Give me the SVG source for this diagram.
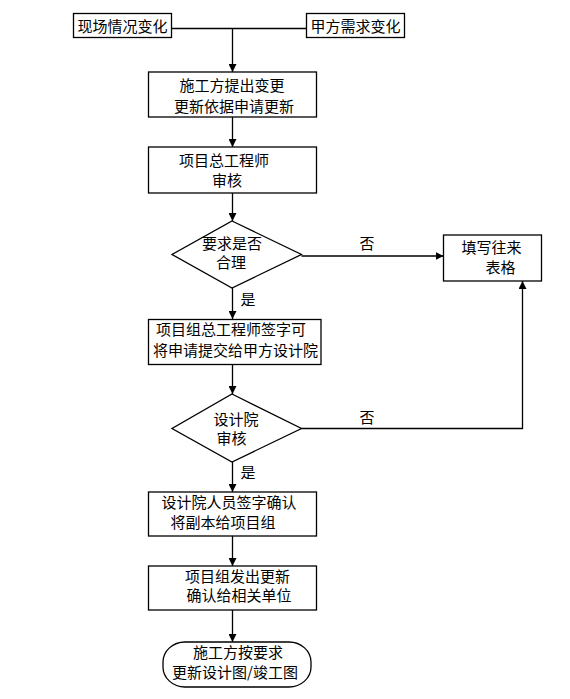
<svg xmlns="http://www.w3.org/2000/svg" width="570" height="699" viewBox="0 0 570 699">
<style>
.n{fill:#fff;stroke:#000;stroke-width:1.3}
.c{fill:none;stroke:#000;stroke-width:1.3}
text{font-family:"Noto Sans CJK SC","Liberation Sans",sans-serif;font-size:15px;fill:#000;text-anchor:middle}
</style>
<defs>
<marker id="a" viewBox="0 0 10 10" refX="10" refY="5" markerWidth="8" markerHeight="8" markerUnits="userSpaceOnUse" orient="auto">
<path d="M0,0 L10,5 L0,10 Z" fill="#000"/>
</marker>
</defs>
<rect width="570" height="699" fill="#fff"/>
<g id="connectors">
<path class="c" d="M172,28.5 H306"/>
<path class="c" d="M232.5,28.5 V72" marker-end="url(#a)"/>
<path class="c" d="M232.5,117 V147" marker-end="url(#a)"/>
<path class="c" d="M232.5,193 V221" marker-end="url(#a)"/>
<path class="c" d="M232.5,288 V319" marker-end="url(#a)"/>
<path class="c" d="M232.5,364 V394" marker-end="url(#a)"/>
<path class="c" d="M232.5,462 V492" marker-end="url(#a)"/>
<path class="c" d="M232.5,536 V566" marker-end="url(#a)"/>
<path class="c" d="M232.5,610 V642" marker-end="url(#a)"/>
<path class="c" d="M301.5,256 H443.5" marker-end="url(#a)"/>
<path class="c" d="M301.5,428.5 H522.5 V281" marker-end="url(#a)"/>
<text x="367" y="249">否</text>
<text x="367" y="423">否</text>
<text x="248" y="305">是</text>
<text x="248" y="478">是</text>
</g>
<g id="n1"><rect class="n" x="73.5" y="13.5" width="98" height="24"/><text x="122.5" y="32">现场情况变化</text></g>
<g id="n2"><rect class="n" x="306.5" y="13.5" width="98" height="24"/><text x="355.5" y="32">甲方需求变化</text></g>
<g id="n3"><rect class="n" x="148.5" y="72" width="168" height="45"/><text x="232" y="91">施工方提出变更</text><text x="234" y="112">更新依据申请更新</text></g>
<g id="n4"><rect class="n" x="148.5" y="147" width="168" height="46"/><text x="224" y="166">项目总工程师</text><text x="227" y="186">审核</text></g>
<g id="n5"><path class="n" d="M232,221 L301.5,254.5 L232,288 L172,254.5 Z"/><text x="232" y="249">要求是否</text><text x="231" y="268">合理</text></g>
<g id="n6"><rect class="n" x="443.5" y="235" width="98" height="46"/><text x="491.5" y="253">填写往来</text><text x="500.5" y="273">表格</text></g>
<g id="n7"><rect class="n" x="148.5" y="319.5" width="172.5" height="45"/><text x="231" y="335">项目组总工程师签字可</text><text x="235.5" y="356">将申请提交给甲方设计院</text></g>
<g id="n8"><path class="n" d="M232,394 L301.5,428.5 L232,462 L172,428.5 Z"/><text x="236" y="425">设计院</text><text x="231.5" y="444">审核</text></g>
<g id="n9"><rect class="n" x="148.5" y="492" width="168" height="44"/><text x="229" y="508">设计院人员签字确认</text><text x="223" y="528">将副本给项目组</text></g>
<g id="n10"><rect class="n" x="148.5" y="566" width="168" height="44"/><text x="237.5" y="582">项目组发出更新</text><text x="239" y="601">确认给相关单位</text></g>
<g id="n11"><rect class="n" x="163" y="642" width="148" height="45" rx="22" ry="20"/><text x="238" y="658">施工方按要求</text><text x="235" y="678">更新设计图/竣工图</text></g>
</svg>
